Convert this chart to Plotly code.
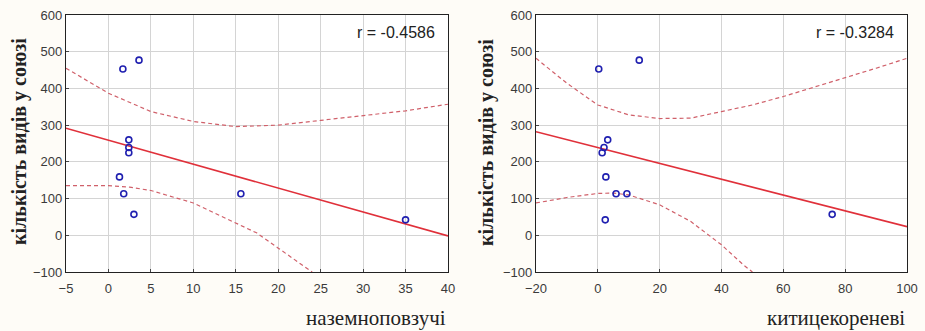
import numpy as np
import plotly.graph_objects as go

# ---- data ----
species_count = [453, 477, 260, 239, 225, 159, 113, 57, 113, 42]
x_ground = [1.7, 3.6, 2.4, 2.4, 2.4, 1.3, 1.8, 3.0, 15.6, 35.0]
x_fibrous = [0.3, 13.4, 3.2, 2.0, 1.4, 2.6, 5.9, 75.8, 9.4, 2.4]

band1_up_x = [-5, 0, 5, 7.5, 10, 15, 20, 25, 30, 35, 40]
band1_up_y = [455, 387, 337, 323, 310, 296, 300, 313, 325, 339, 357]
band1_lo_x = [-5, 0, 2.5, 5, 10, 15, 17.5, 20, 24]
band1_lo_y = [135, 135, 131, 122, 88, 33, 6, -35, -100]

band2_up_x = [-20, -10, 0, 10, 20, 30, 40, 50, 60, 70, 80, 90, 100]
band2_up_y = [482, 414, 355, 328, 318, 319, 337, 355, 378, 403, 430, 455, 482]
band2_lo_x = [-20, -10, 0, 5, 10, 20, 30, 40, 47, 50]
band2_lo_y = [88, 103, 114, 115, 110, 83, 38, -26, -80, -100]

r_labels = ["r = -0.4586", "r = -0.3284"]
x_titles = ["наземноповзучі", "китицекореневі"]
y_title = "кількість видів у союзі"
y_ticks = [600, 500, 400, 300, 200, 100, 0, -100]
x1_ticks = [-5, 0, 5, 10, 15, 20, 25, 30, 35, 40]
x2_ticks = [-20, 0, 20, 40, 60, 80, 100]

W, H = 925, 331
fig = go.Figure()

RED = "#e0303a"
BAND = "#d0606a"
BLUE = "#2020b0"

def add_panel(xs, band_up, band_lo, xr, xaxis, yaxis):
    xs_arr = np.array(xs)
    ys_arr = np.array(species_count)
    k, b = np.polyfit(xs_arr, ys_arr, 1)
    lx = np.array(xr)
    for bx, by in (band_up, band_lo):
        fig.add_trace(go.Scatter(x=bx, y=by, mode="lines",
                                 line=dict(color=BAND, width=1.2, dash="4px,3px"),
                                 xaxis=xaxis, yaxis=yaxis, hoverinfo="skip"))
    fig.add_trace(go.Scatter(x=lx, y=k * lx + b, mode="lines",
                             line=dict(color=RED, width=1.6),
                             xaxis=xaxis, yaxis=yaxis))
    fig.add_trace(go.Scatter(x=xs, y=species_count, mode="markers",
                             marker=dict(symbol="circle-open", size=6, color=BLUE,
                                         line=dict(width=1.6, color=BLUE)),
                             xaxis=xaxis, yaxis=yaxis))

add_panel(x_ground, (band1_up_x, band1_up_y), (band1_lo_x, band1_lo_y), [-5, 40], "x", "y")
add_panel(x_fibrous, (band2_up_x, band2_up_y), (band2_lo_x, band2_lo_y), [-20, 100], "x2", "y2")

ydom = [(H - 272) / H, (H - 15) / H]
tickfont = dict(family="Liberation Sans Narrow, Liberation Sans", size=13, color="#3a3a3a")
common_axis = dict(showgrid=True, gridcolor="#d4d4d4", gridwidth=1, zeroline=False,
                   showline=True, linecolor="#222222", linewidth=1.2, mirror=True,
                   ticks="inside", ticklen=3, tickcolor="#444444",
                   tickfont=tickfont, automargin=False)

fig.update_layout(
    width=W, height=H, margin=dict(l=0, r=0, t=0, b=0),
    paper_bgcolor="#fefcf7", plot_bgcolor="white", showlegend=False,
    xaxis=dict(domain=[66 / W, 448 / W], range=[-5, 40], tickvals=x1_ticks, anchor="y",
               ticklabelstandoff=4, **common_axis),
    yaxis=dict(domain=ydom, range=[-100, 600], tickvals=y_ticks, anchor="x", **common_axis),
    xaxis2=dict(domain=[536 / W, 907 / W], range=[-20, 100], tickvals=x2_ticks, anchor="y2",
                ticklabelstandoff=4, **common_axis),
    yaxis2=dict(domain=ydom, range=[-100, 600], tickvals=y_ticks, anchor="x2", **common_axis),
)

ann = []
for i, (xe, xref, yref) in enumerate([(448, "x domain", "y domain"), (907, "x2 domain", "y2 domain")]):
    ann.append(dict(text=r_labels[i], xref=xref, yref=yref, x=0.97, y=0.93,
                    xanchor="right", yanchor="middle", showarrow=False,
                    font=dict(family="Liberation Sans", size=16, color="#222222")))
    ann.append(dict(text=x_titles[i], xref="paper", yref="paper", x=xe / W, y=(H - 318) / H,
                    xanchor="right", yanchor="middle", showarrow=False,
                    font=dict(family="Liberation Serif", size=21, color="#222222")))
for xc in [19, 486]:
    ann.append(dict(text="<b>" + y_title + "</b>", xref="paper", yref="paper",
                    x=xc / W, y=(H - 142) / H, xanchor="center", yanchor="middle",
                    textangle=-90, showarrow=False,
                    font=dict(family="Liberation Serif", size=20, color="#222222")))
fig.update_layout(annotations=ann)

fig.write_html("out.html")
